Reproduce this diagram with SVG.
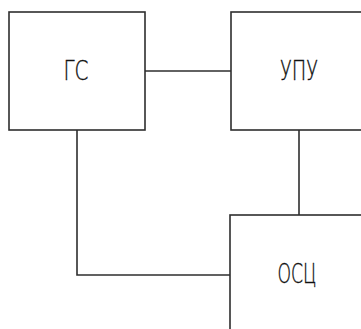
<svg xmlns="http://www.w3.org/2000/svg" width="361" height="329" viewBox="0 0 361 329">
<style>
.box{fill:#fff;stroke:#2e2e2e;stroke-width:1.6}
.wire{fill:none;stroke:#2e2e2e;stroke-width:1.6}
.lbl{font-family:"DejaVu Sans","Liberation Sans",sans-serif;font-weight:200;font-size:27px;fill:#111;stroke:#111;stroke-width:0.4;text-anchor:middle}
</style>
<rect width="361" height="329" fill="#fff"/>
<g id="connectors">
<line class="wire" x1="145" y1="71" x2="231" y2="71"/>
<line class="wire" x1="299" y1="130" x2="299" y2="215"/>
<polyline class="wire" points="77,130 77,275 230,275"/>
</g>
<g id="node-gs">
<rect class="box" x="9" y="12" width="136" height="118"/>
<text class="lbl" x="76" y="80" textLength="25" lengthAdjust="spacingAndGlyphs">ГС</text>
</g>
<g id="node-upu">
<rect class="box" x="231" y="12" width="140" height="118"/>
<text class="lbl" x="299" y="80" textLength="38" lengthAdjust="spacingAndGlyphs">УПУ</text>
</g>
<g id="node-osc">
<rect class="box" x="230" y="215" width="140" height="124"/>
<text class="lbl" x="297" y="283" textLength="39" lengthAdjust="spacingAndGlyphs">ОСЦ</text>
</g>
</svg>
